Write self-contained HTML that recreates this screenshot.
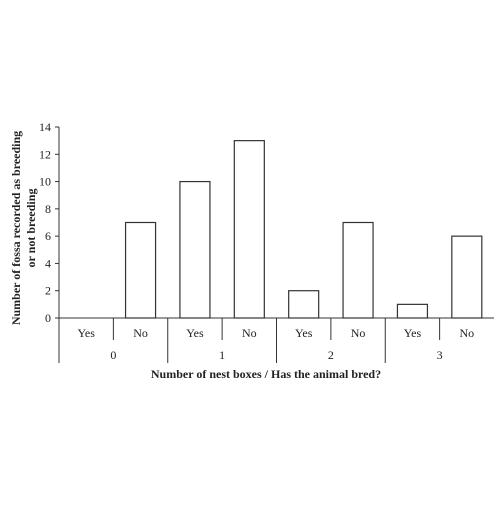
<!DOCTYPE html>
<html><head><style>
body{margin:0;background:#fff}
svg text{font-family:"Liberation Serif",serif;fill:#222}
</style></head><body>
<svg id="c" width="500" height="500">
<g id="g"></g>
<text x="266" y="378" font-size="12" font-weight="bold" text-anchor="middle">Number of nest boxes / Has the animal bred?</text>
<text transform="translate(20,228) rotate(-90)" font-size="12" font-weight="bold" text-anchor="middle"><tspan x="0" dy="0">Number of fossa recorded as breeding</tspan><tspan x="0" dy="15">or not breeding</tspan></text>
</svg>
<script>
const groups=["0","1","2","3"];
const subCats=["Yes","No"];
const values=[0,7,10,13,2,7,1,6];
const yTicks=[0,2,4,6,8,10,12,14];
const NS="http://www.w3.org/2000/svg";
const g=document.getElementById('g');
const x0=59,x1=494,yBase=318,yTop=127,yMax=14;
const n=values.length,slot=(x1-x0)/n,bw=30;
const y=v=>yBase-(v/yMax)*(yBase-yTop);
function mk(t,a,txt){const e=document.createElementNS(NS,t);for(const k in a)e.setAttribute(k,a[k]);if(txt!=null)e.textContent=txt;g.appendChild(e);return e;}
let e=mk('line',{x1:x0,y1:yTop,x2:x0,y2:363,stroke:'#333','stroke-width':1});

e=mk('line',{x1:x0,y1:yBase,x2:x1,y2:yBase,stroke:'#333','stroke-width':1});

yTicks.forEach(t=>{
 e=mk('line',{x1:x0-4,y1:y(t),x2:x0,y2:y(t),stroke:'#333'});
 
 e=mk('text',{x:x0-8,y:y(t)+4,'font-size':12,'text-anchor':'end'},t);
 
});
values.forEach((v,i)=>{
 const cx=x0+slot*(i+0.5);
 if(v>0){e=mk('rect',{x:cx-bw/2,y:y(v),width:bw,height:yBase-y(v),fill:'#fff',stroke:'#333','stroke-width':1.2});
 }
 e=mk('text',{x:cx,y:337,'font-size':12,'text-anchor':'middle'},subCats[i%2]);
 
 if(i%2==1){e=mk('line',{x1:x0+slot*i,y1:yBase,x2:x0+slot*i,y2:340,stroke:'#333'});
 }
});
groups.forEach((gname,j)=>{
 const gx=x0+slot*2*j;
 if(j>0){e=mk('line',{x1:gx,y1:yBase,x2:gx,y2:363,stroke:'#333'});
 }
 e=mk('text',{x:gx+slot,y:359,'font-size':12,'text-anchor':'middle'},gname);
 
});
</script>
</body></html>
